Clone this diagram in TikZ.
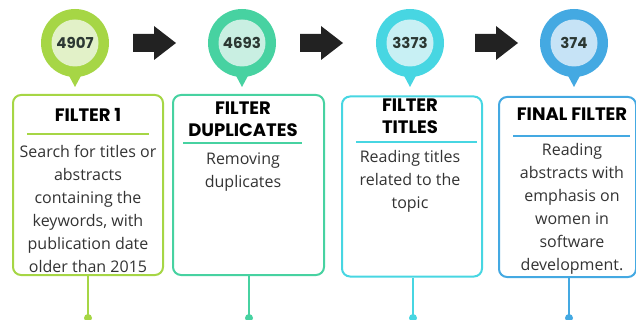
\documentclass[tikz,border=0pt]{standalone}
\usepackage{fontspec}
\setmainfont{Open Sans}
\newfontfamily\headfont{Poppins}
\usetikzlibrary{calc}
\definecolor{limeA}{HTML}{A6D645}
\definecolor{limeB}{HTML}{E2F1C8}
\definecolor{mintA}{HTML}{47D2A1}
\definecolor{mintB}{HTML}{C9EFE2}
\definecolor{cyanA}{HTML}{47D6E2}
\definecolor{cyanB}{HTML}{C8F0F4}
\definecolor{skyA}{HTML}{44A9E2}
\definecolor{skyB}{HTML}{C6E3F6}
\definecolor{arrowgray}{HTML}{222222}
\definecolor{numgray}{HTML}{2C3833}
\definecolor{bodygray}{HTML}{333333}
\def\blockarrow(#1,#2){\fill[arrowgray] (#1,#2) ++(0,-9) -- ++(21,0) -- ++(0,-8) -- ++(22,17) -- ++(-22,17) -- ++(0,-8) -- ++(-21,0) -- cycle;}
\tikzset{
  pin/.style={circle, minimum size=68pt, inner sep=0pt},
  pincore/.style={circle, minimum size=47pt, inner sep=0pt, text=numgray, font=\headfont\bfseries\fontsize{15}{15}\selectfont},
  stepbox/.style={draw, line width=2pt, rounded corners=8pt, minimum width=#1, minimum height=180pt},
  heading/.style={align=center, inner sep=0pt, text=black, font=\headfont\bfseries\fontsize{18}{22}\selectfont},
  body/.style={align=center, inner sep=0pt, anchor=north, text=bodygray, font=\fontsize{16}{23}\selectfont},
  stem/.style={line width=2pt}
}
\begin{document}
\begin{tikzpicture}[x=1pt,y=-1pt]
	%%%%% START %%%%%
	\useasboundingbox (0,0) rectangle (636,320);
	
	% pins with counts
	\fill[limeA] (67,72) -- (75,87) -- (83,72) -- cycle;
	\node[pin, fill=limeA] (pin1) at (75,43) {};
	\node[pincore, fill=limeB] (count1) at (pin1) {4907};
	
	\fill[mintA] (234,72) -- (242,87) -- (250,72) -- cycle;
	\node[pin, fill=mintA] (pin2) at (242,43) {};
	\node[pincore, fill=mintB] (count2) at (pin2) {4693};
	
	\fill[cyanA] (402,72) -- (410,87) -- (418,72) -- cycle;
	\node[pin, fill=cyanA] (pin3) at (410,43) {};
	\node[pincore, fill=cyanB] (count3) at (pin3) {3373};
	
	\fill[skyA] (566,72) -- (574,87) -- (582,72) -- cycle;
	\node[pin, fill=skyA] (pin4) at (574,43) {};
	\node[pincore, fill=skyB] (count4) at (pin4) {374};
	
	% arrows
	\blockarrow(133,43)
	\blockarrow(300,43)
	\blockarrow(475,43)
	
	% boxes
	\node[stepbox=150pt, draw=limeA] (box1) at (88,185) {};
	\node[heading] (head1) at (88,115) {FILTER 1};
	\draw[limeA, line width=1.5pt] (27,134) -- (149,134);
	\node[body] (text1) at (88,145) {Search for titles or\\abstracts\\containing the\\keywords, with\\publication date\\older than 2015};
	
	\node[stepbox=151pt, draw=mintA] (box2) at (248.5,185) {};
	\node[heading] (head2) at (243,119) {FILTER\\DUPLICATES};
	\draw[mintA, line width=1.5pt] (183,143) -- (302,143);
	\node[body] (text2) at (243,153) {Removing\\duplicates};
	
	\node[stepbox=140pt, draw=cyanA] (box3) at (412,186.5) {};
	\node[heading] (head3) at (410,116) {FILTER\\TITLES};
	\draw[cyanA, line width=1.5pt] (356,142) -- (477,142);
	\node[body] (text3) at (410,150) {Reading titles\\related to the\\topic};
	
	\node[stepbox=137pt, draw=skyA] (box4) at (567.5,187) {};
	\node[heading] (head4) at (572,114) {FINAL FILTER};
	\draw[skyA, line width=1.5pt] (513,136) -- (630,136);
	\node[body] (text4) at (572,143) {Reading\\abstracts with\\emphasis on\\women in\\software\\development.};
	
	% stems
	\coordinate (end1) at (88,318);
	\coordinate (end2) at (249,318);
	\coordinate (end3) at (413,318);
	\coordinate (end4) at (569,318);
	\draw[stem, limeA] (box1.south) -- (end1);
	\fill[limeA] (end1) circle (4);
	\draw[stem, mintA] (box2.south -| end2) -- (end2);
	\fill[mintA] (end2) circle (4);
	\draw[stem, cyanA] (box3.south -| end3) -- (end3);
	\fill[cyanA] (end3) circle (4);
	\draw[stem, skyA] (box4.south -| end4) -- (end4);
	\fill[skyA] (end4) circle (4);
	
	%%%%% END %%%%%
\end{tikzpicture}
\end{document}
